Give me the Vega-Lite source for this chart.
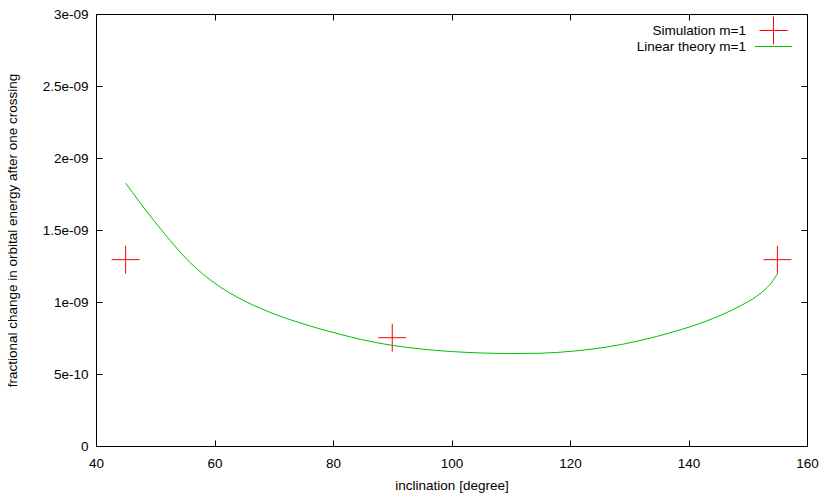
{
  "$schema": "https://vega.github.io/schema/vega-lite/v6.json",
  "width": 711,
  "height": 432,
  "autosize": {"type": "none"},
  "padding": {"left": 96, "top": 14, "right": 23, "bottom": 52},
  "config": {
    "view": {"stroke": null},
    "font": "Liberation Sans",
    "axis": {
      "grid": false,
      "domainColor": "#000",
      "domainWidth": 1,
      "tickColor": "#000",
      "tickSize": -6,
      "labelFontSize": 13.5,
      "labelColor": "#000",
      "labelFlush": false,
      "titleFontSize": 13.5,
      "titleFontWeight": "normal",
      "titleColor": "#000"
    },
    "legend": {"labelFontSize": 13.5, "labelColor": "#000"}
  },
  "datasets": {
    "sim": [
      {"inclination": 45, "value": 1.294e-9, "series": "Simulation m=1"},
      {"inclination": 90, "value": 0.752e-9, "series": "Simulation m=1"},
      {"inclination": 155, "value": 1.294e-9, "series": "Simulation m=1"}
    ],
    "theory": [
      {"inclination": 45.0, "value": 1.825e-9, "model": "Linear theory m=1"},
      {"inclination": 47.3, "value": 1.697e-9, "model": "Linear theory m=1"},
      {"inclination": 49.7, "value": 1.569e-9, "model": "Linear theory m=1"},
      {"inclination": 52.5, "value": 1.428e-9, "model": "Linear theory m=1"},
      {"inclination": 55.3, "value": 1.298e-9, "model": "Linear theory m=1"},
      {"inclination": 58.1, "value": 1.192e-9, "model": "Linear theory m=1"},
      {"inclination": 60.9, "value": 1.106e-9, "model": "Linear theory m=1"},
      {"inclination": 63.75, "value": 1.035e-9, "model": "Linear theory m=1"},
      {"inclination": 66.55, "value": 0.978e-9, "model": "Linear theory m=1"},
      {"inclination": 69.4, "value": 0.928e-9, "model": "Linear theory m=1"},
      {"inclination": 72.2, "value": 0.885e-9, "model": "Linear theory m=1"},
      {"inclination": 75.0, "value": 0.848e-9, "model": "Linear theory m=1"},
      {"inclination": 77.8, "value": 0.813e-9, "model": "Linear theory m=1"},
      {"inclination": 81.2, "value": 0.776e-9, "model": "Linear theory m=1"},
      {"inclination": 85.0, "value": 0.737e-9, "model": "Linear theory m=1"},
      {"inclination": 90.0, "value": 0.699e-9, "model": "Linear theory m=1"},
      {"inclination": 95.0, "value": 0.673e-9, "model": "Linear theory m=1"},
      {"inclination": 100.0, "value": 0.656e-9, "model": "Linear theory m=1"},
      {"inclination": 105.0, "value": 0.646e-9, "model": "Linear theory m=1"},
      {"inclination": 110.0, "value": 0.642e-9, "model": "Linear theory m=1"},
      {"inclination": 114.9, "value": 0.644e-9, "model": "Linear theory m=1"},
      {"inclination": 120.6, "value": 0.659e-9, "model": "Linear theory m=1"},
      {"inclination": 126.2, "value": 0.687e-9, "model": "Linear theory m=1"},
      {"inclination": 131.8, "value": 0.732e-9, "model": "Linear theory m=1"},
      {"inclination": 137.4, "value": 0.792e-9, "model": "Linear theory m=1"},
      {"inclination": 143.1, "value": 0.869e-9, "model": "Linear theory m=1"},
      {"inclination": 146.0, "value": 0.918e-9, "model": "Linear theory m=1"},
      {"inclination": 148.7, "value": 0.972e-9, "model": "Linear theory m=1"},
      {"inclination": 151.5, "value": 1.040e-9, "model": "Linear theory m=1"},
      {"inclination": 153.0, "value": 1.090e-9, "model": "Linear theory m=1"},
      {"inclination": 154.3, "value": 1.150e-9, "model": "Linear theory m=1"},
      {"inclination": 155.0, "value": 1.196e-9, "model": "Linear theory m=1"}
    ]
  },
  "layer": [
    {
      "data": {"name": "sim"},
      "mark": {"type": "point", "filled": false, "size": 196, "strokeWidth": 1, "opacity": 1},
      "encoding": {
        "x": {
          "field": "inclination", "type": "quantitative",
          "scale": {"domain": [40, 160], "nice": false, "zero": false},
          "axis": {"orient": "bottom", "values": [40, 60, 80, 100, 120, 140, 160], "title": "inclination [degree]", "labelPadding": 16, "titleBaseline": "middle", "titleY": 39}
        },
        "y": {
          "field": "value", "type": "quantitative",
          "scale": {"domain": [0, 3e-9], "nice": false},
          "axis": {
            "orient": "left",
            "values": [0, 5e-10, 1e-9, 1.5e-9, 2e-9, 2.5e-9, 3e-9],
            "labelExpr": "['0','5e-10','1e-09','1.5e-09','2e-09','2.5e-09','3e-09'][round(datum.value/5e-10)]",
            "labelPadding": 14,
            "title": "fractional change in orbital energy after one crossing",
            "titleX": -84, "titleY": 216, "titleAlign": "center", "titleBaseline": "middle"
          }
        },
        "color": {
          "field": "series", "type": "nominal",
          "scale": {"domain": ["Simulation m=1"], "range": ["#ff0000"]},
          "legend": {
            "title": null, "orient": "none", "legendX": 670, "legendY": 9,
            "padding": 0, "symbolSize": 196, "symbolStrokeWidth": 1,
            "labelAlign": "right", "labelOffset": -35
          }
        },
        "shape": {
          "field": "series", "type": "nominal",
          "scale": {"domain": ["Simulation m=1"], "range": ["M-2,0L2,0M0,-2L0,2"]},
          "legend": {
            "title": null, "orient": "none", "legendX": 670, "legendY": 9,
            "padding": 0, "symbolSize": 196, "symbolStrokeWidth": 1,
            "labelAlign": "right", "labelOffset": -35
          }
        }
      }
    },
    {
      "data": {"name": "theory"},
      "mark": {"type": "line", "strokeWidth": 1, "interpolate": "monotone"},
      "encoding": {
        "x": {
          "field": "inclination", "type": "quantitative",
          "axis": {"orient": "top", "values": [40, 60, 80, 100, 120, 140, 160], "labels": false, "title": null}
        },
        "y": {
          "field": "value", "type": "quantitative",
          "axis": {"orient": "right", "values": [0, 5e-10, 1e-9, 1.5e-9, 2e-9, 2.5e-9, 3e-9], "labels": false, "title": null}
        },
        "stroke": {
          "field": "model", "type": "nominal",
          "scale": {"domain": ["Linear theory m=1"], "range": ["#00c000"]},
          "legend": {
            "title": null, "orient": "none", "legendX": 670, "legendY": 25,
            "padding": 0, "symbolType": "M-2.64,0L2.64,0", "symbolSize": 196, "symbolStrokeWidth": 1,
            "labelAlign": "right", "labelOffset": -35
          }
        }
      }
    }
  ],
  "resolve": {"axis": {"x": "independent", "y": "independent"}}
}
